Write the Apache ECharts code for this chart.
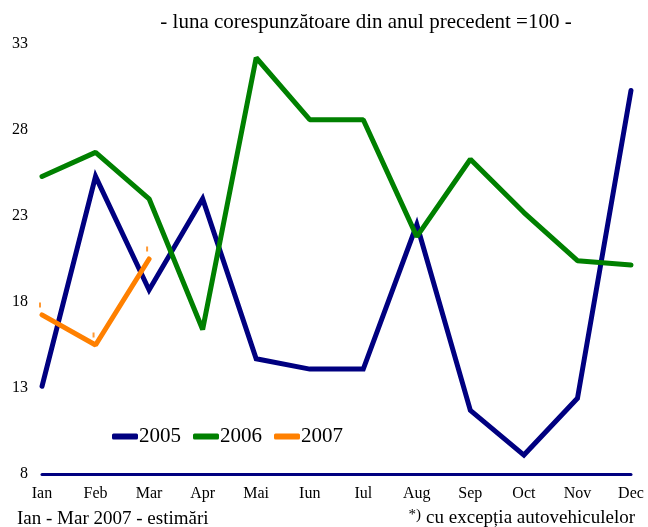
<!DOCTYPE html>
<html>
<head>
<meta charset="utf-8">
<script src="https://cdn.jsdelivr.net/npm/echarts@6/dist/echarts.min.js"></script>
<style>
  html, body { margin: 0; padding: 0; background: #fff; }
  #chart { width: 648px; height: 527px; }
</style>
</head>
<body>
<div id="chart"></div>
<script>
// Months and yearly values (luna corespunzatoare din anul precedent = 100)
const months = ['Ian', 'Feb', 'Mar', 'Apr', 'Mai', 'Iun', 'Iul', 'Aug', 'Sep', 'Oct', 'Nov', 'Dec'];
const values2005 = [13.1, 25.3, 18.7, 24.0, 14.7, 14.1, 14.1, 22.5, 11.7, 9.1, 12.4, 30.3];
const values2006 = [25.3, 26.7, 24.0, 16.4, 32.2, 28.6, 28.6, 21.8, 26.3, 23.2, 20.4, 20.15];
const values2007 = [17.25, 15.5, 20.5];
const yTicks = [8, 13, 18, 23, 28, 33];

const serif = 'Liberation Serif';
const chart = echarts.init(document.getElementById('chart'));

const option = {
    backgroundColor: '#fff',
    animation: false,
    title: [{
        text: '- luna corespunzătoare din anul precedent =100 -',
        left: 361,
        top: 7,
        textAlign: 'center',
        textStyle: { fontFamily: serif, fontSize: 21, fontWeight: 'normal', color: '#000' }
    }, {
        text: 'Ian - Mar 2007 - estimări',
        left: 12,
        top: 505,
        textStyle: { fontFamily: serif, fontSize: 19, fontWeight: 'normal', color: '#000' }
    }, {
        text: '{a|*)} {b|cu excepția autovehiculelor}',
        right: 8,
        top: 503,
        textStyle: {
            rich: {
                a: { fontFamily: serif, fontSize: 15, fontWeight: 'normal', color: '#000', verticalAlign: 'top', padding: [0, 0, 6, 0] },
                b: { fontFamily: serif, fontSize: 19, fontWeight: 'normal', color: '#000' }
            }
        }
    }],
    legend: {
        left: 107,
        top: 421,
        icon: 'roundRect',
        itemWidth: 26,
        itemHeight: 6,
        itemGap: 12,
        textStyle: { fontFamily: serif, fontSize: 21, color: '#000', padding: [0, 0, 0, -4] },
        data: ['2005', '2006', '2007']
    },
    grid: { left: 42, right: 17, top: 44, bottom: 53 },
    xAxis: {
        type: 'category',
        data: months,
        boundaryGap: false,
        axisLine: { lineStyle: { color: '#000080', width: 3 } },
        axisTick: { show: false },
        axisLabel: { fontFamily: serif, fontSize: 16, color: '#000', margin: 12 }
    },
    yAxis: {
        type: 'value',
        min: yTicks[0],
        max: yTicks[yTicks.length - 1],
        interval: 5,
        axisLine: { show: false },
        axisTick: { show: false },
        splitLine: { show: false },
        axisLabel: { fontFamily: serif, fontSize: 16, color: '#000', margin: 14 }
    },
    series: [{
        name: '2005',
        type: 'line',
        data: values2005,
        symbol: 'none',
        lineStyle: { color: '#000080', width: 5, cap: 'round', join: 'miter' },
        itemStyle: { color: '#000080' }
    }, {
        name: '2006',
        type: 'line',
        data: values2006,
        symbol: 'none',
        lineStyle: { color: '#008000', width: 5, cap: 'round' },
        itemStyle: { color: '#008000' }
    }, {
        name: '2007',
        type: 'line',
        data: values2007,
        symbol: 'none',
        lineStyle: { color: '#ff8000', width: 5, cap: 'round' },
        itemStyle: { color: '#ff8000' }
    }, {
        // small error-bar ticks above the 2007 estimates
        name: '2007 est',
        type: 'scatter',
        data: values2007,
        symbol: 'rect',
        symbolSize: [2, 5],
        symbolOffset: [-2, -10],
        itemStyle: { color: '#ff8000' },
        silent: true
    }]
};

chart.setOption(option);
</script>
</body>
</html>
